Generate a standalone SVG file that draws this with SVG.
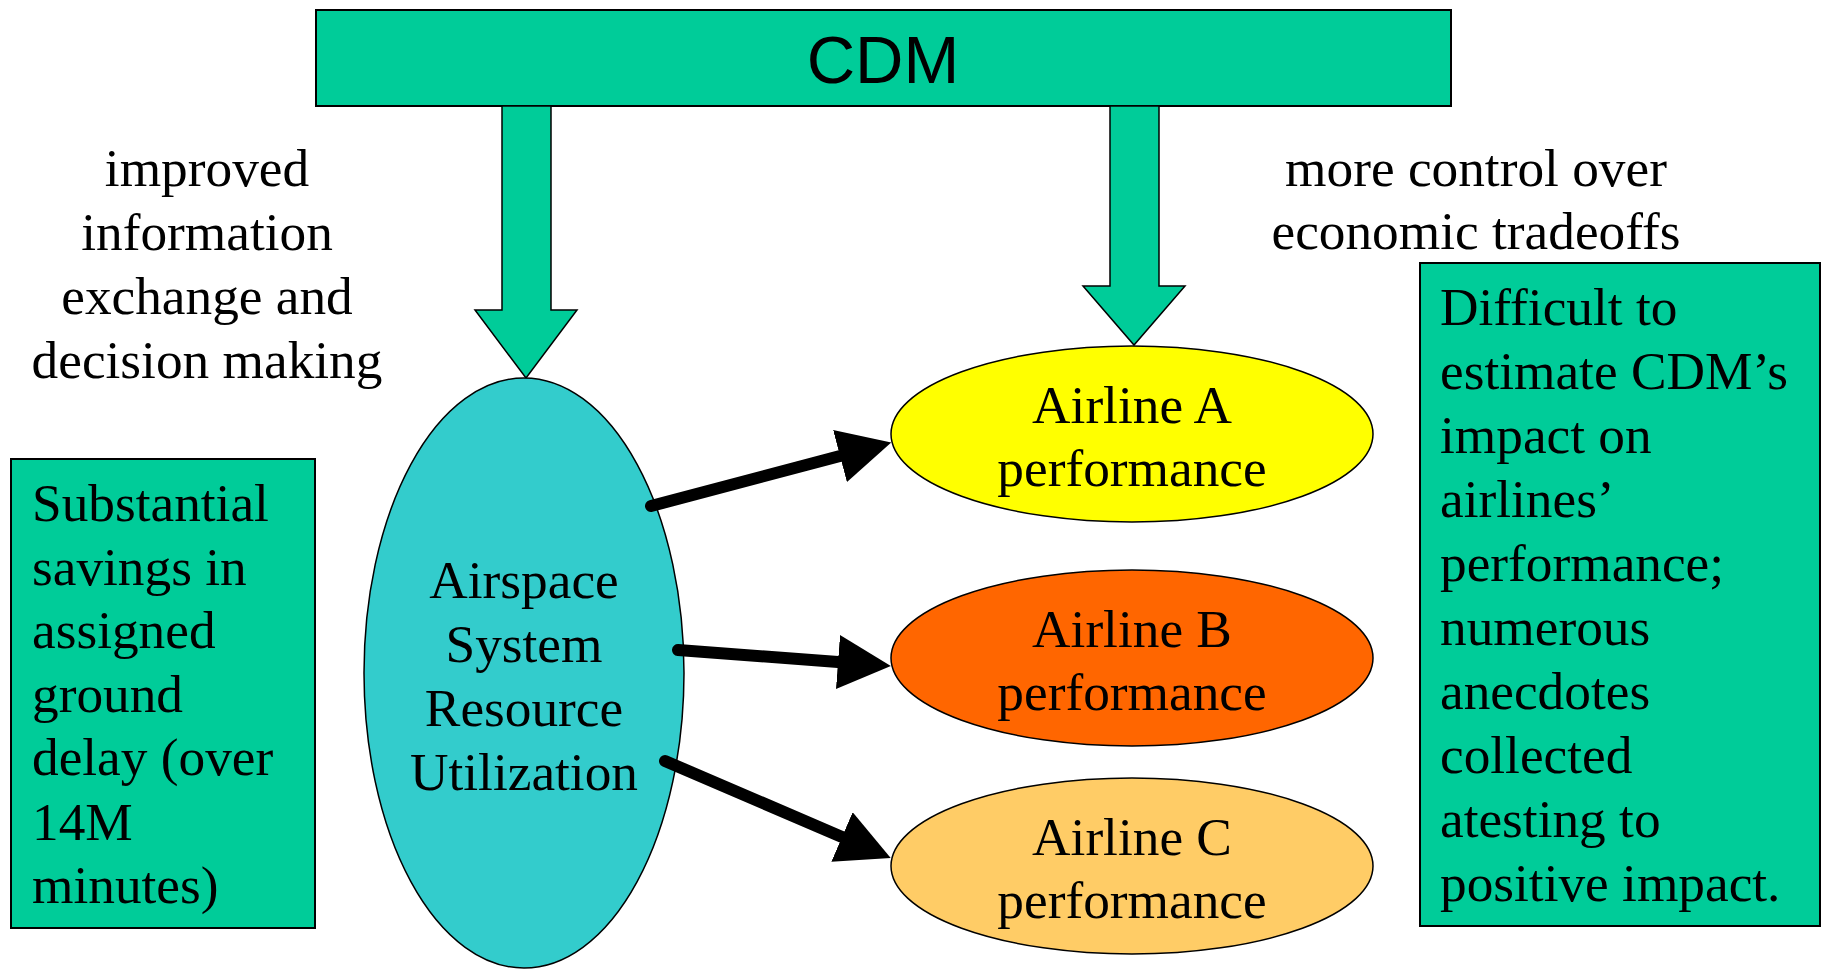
<svg xmlns="http://www.w3.org/2000/svg" width="1822" height="969" viewBox="0 0 1822 969">
<style>
.t{font-family:"Liberation Serif","Times New Roman",serif;font-size:53.3px;fill:#000}
.c{text-anchor:middle}
.box{fill:#00CC99;stroke:#000;stroke-width:2}
.blk{fill:#00CC99;stroke:#000;stroke-width:1.5}
.ell{stroke:#000;stroke-width:1.5}
.conn{stroke:#000;stroke-width:12;fill:none;stroke-linecap:round}
</style>
<defs>
<marker id="ah" markerUnits="userSpaceOnUse" markerWidth="54" markerHeight="54" viewBox="0 0 54 54" refX="0" refY="27" orient="auto">
<path d="M0,0 L53,27 L0,54 z" fill="#000"/>
</marker>
</defs>
<rect width="1822" height="969" fill="#fff"/>
<g id="cdm">
<rect class="box" x="316" y="10" width="1135" height="96"/>
<text x="883" y="83" text-anchor="middle" font-family="Liberation Sans, Arial, sans-serif" font-size="67">CDM</text>
</g>
<g id="cdm-arrows">
<polygon class="blk" points="502,106 551,106 551,310 577,310 526,378 475,310 502,310"/>
<polygon class="blk" points="1110,106 1159,106 1159,286 1185,286 1134,345 1083,286 1110,286"/>
</g>
<g id="label-left">
<text class="t c" x="207" y="186">improved</text>
<text class="t c" x="207" y="250">information</text>
<text class="t c" x="207" y="314">exchange and</text>
<text class="t c" x="207" y="378">decision making</text>
</g>
<g id="label-right">
<text class="t c" x="1476" y="186">more control over</text>
<text class="t c" x="1476" y="249">economic tradeoffs</text>
</g>
<g id="airspace">
<ellipse class="ell" cx="524" cy="673" rx="160" ry="295" fill="#33CCCC"/>
<text class="t c" x="524" y="598">Airspace</text>
<text class="t c" x="524" y="662">System</text>
<text class="t c" x="524" y="726">Resource</text>
<text class="t c" x="524" y="790">Utilization</text>
</g>
<g id="airlineA">
<ellipse class="ell" cx="1132" cy="434" rx="241" ry="88" fill="#FFFF00"/>
<text class="t c" x="1132" y="423">Airline A</text>
<text class="t c" x="1132" y="486">performance</text>
</g>
<g id="airlineB">
<ellipse class="ell" cx="1132" cy="658" rx="241" ry="88" fill="#FF6600"/>
<text class="t c" x="1132" y="647">Airline B</text>
<text class="t c" x="1132" y="710">performance</text>
</g>
<g id="airlineC">
<ellipse class="ell" cx="1132" cy="866" rx="241" ry="88" fill="#FFCC66"/>
<text class="t c" x="1132" y="855">Airline C</text>
<text class="t c" x="1132" y="918">performance</text>
</g>
<g id="connectors">
<line class="conn" x1="651" y1="506" x2="840" y2="456" marker-end="url(#ah)"/>
<line class="conn" x1="678" y1="650" x2="838" y2="662" marker-end="url(#ah)"/>
<line class="conn" x1="665" y1="761" x2="842" y2="837" marker-end="url(#ah)"/>
</g>
<g id="note-left">
<rect class="box" x="11" y="459" width="304" height="469"/>
<text class="t" x="32" y="521">Substantial</text>
<text class="t" x="32" y="585">savings in</text>
<text class="t" x="32" y="648">assigned</text>
<text class="t" x="32" y="712">ground</text>
<text class="t" x="32" y="775">delay (over</text>
<text class="t" x="32" y="840">14M</text>
<text class="t" x="32" y="903">minutes)</text>
</g>
<g id="note-right">
<rect class="box" x="1420" y="263" width="400" height="663"/>
<text class="t" x="1440" y="325">Difficult to</text>
<text class="t" x="1440" y="389">estimate CDM’s</text>
<text class="t" x="1440" y="453">impact on</text>
<text class="t" x="1440" y="517">airlines’</text>
<text class="t" x="1440" y="581">performance;</text>
<text class="t" x="1440" y="645">numerous</text>
<text class="t" x="1440" y="709">anecdotes</text>
<text class="t" x="1440" y="773">collected</text>
<text class="t" x="1440" y="837">atesting to</text>
<text class="t" x="1440" y="901">positive impact.</text>
</g>
</svg>
